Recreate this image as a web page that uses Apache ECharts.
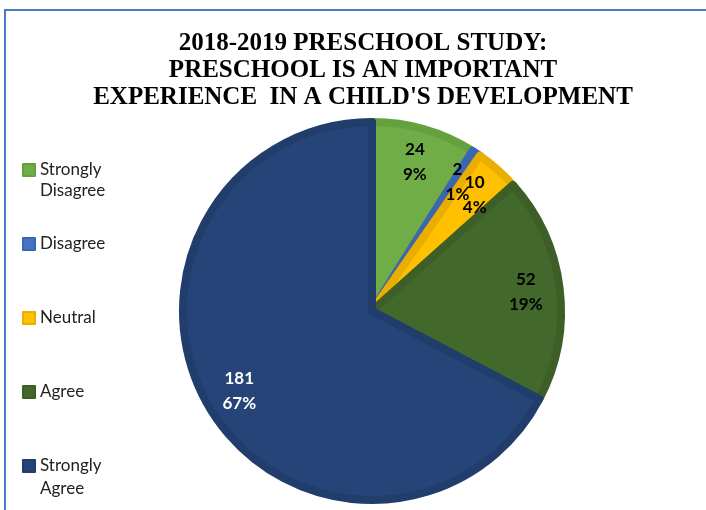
<!DOCTYPE html>
<html>
<head>
<meta charset="utf-8">
<script src="https://cdn.jsdelivr.net/npm/echarts@6/dist/echarts.min.js"></script>
<style>
  html, body { margin: 0; padding: 0; background: #fff; }
  #chart { position: absolute; left: 0; top: 0; width: 706px; height: 510px; }
  #frame { position: absolute; left: 4px; top: 9px; width: 720px; height: 520px;
           border-left: 2px solid #4a7bc6; border-top: 2px solid #4a7bc6; pointer-events: none; }
</style>
</head>
<body>
<div id="chart"></div>
<div id="frame"></div>
<script>
// answers, clockwise from 12 o'clock
var categories = ['Strongly Disagree', 'Disagree', 'Neutral', 'Agree', 'Strongly Agree'];
var counts = [24, 2, 10, 52, 181];

var colors = ['#70ad47', '#4472c4', '#ffc000', '#43682b', '#264478'];
var edgeColors = ['#65a03f', '#3c66b0', '#e9ae00', '#3d5f27', '#213d6c'];
var labelColors = ['#000', '#000', '#000', '#000', '#fff'];

var chart = echarts.init(document.getElementById('chart'));

var sliceData = categories.map(function (name, i) {
  return {
    name: name,
    value: counts[i],
    itemStyle: { color: colors[i], borderColor: edgeColors[i] }
  };
});

var labelData = categories.map(function (name, i) {
  return {
    name: name,
    value: counts[i],
    label: { color: labelColors[i] }
  };
});

var option = {
  animation: false,
  title: {
    text: "2018-2019 PRESCHOOL STUDY:\nPRESCHOOL IS AN IMPORTANT\nEXPERIENCE  IN A CHILD'S DEVELOPMENT",
    left: 358,
    top: 25,
    textAlign: 'center',
    textStyle: {
      fontFamily: 'Liberation Serif',
      fontWeight: 'bold',
      fontSize: 25,
      lineHeight: 27,
      color: '#000'
    }
  },
  legend: {
    orient: 'vertical',
    left: 17,
    top: 156,
    itemWidth: 12,
    itemHeight: 12,
    itemGap: 56,
    itemTextGap: 6,
    icon: 'rect',
    data: categories,
    formatter: function (name) {
      return name.indexOf('Strongly') === 0 ? 'Strongly' : name;
    },
    textStyle: {
      fontFamily: 'Lato',
      fontSize: 17,
      lineHeight: 18,
      color: '#222'
    }
  },
  graphic: [
    { type: 'text', left: 40, top: 182, style: { text: 'Disagree', font: '17px Lato', fill: '#222' } },
    { type: 'text', left: 40, top: 480, style: { text: 'Agree', font: '17px Lato', fill: '#222' } }
  ],
  series: [
    {
      type: 'pie',
      center: [372, 311],
      radius: 189,
      startAngle: 90,
      silent: true,
      label: { show: false },
      labelLine: { show: false },
      itemStyle: { borderWidth: 8, borderJoin: 'round' },
      data: sliceData
    },
    {
      type: 'pie',
      center: [372, 311],
      radius: [111, 193],
      startAngle: 90,
      silent: true,
      percentPrecision: 0,
      avoidLabelOverlap: false,
      itemStyle: { color: 'rgba(0,0,0,0)' },
      labelLayout: { hideOverlap: false },
      label: {
        show: true,
        position: 'inside',
        overflow: 'none',
        formatter: '{c}\n{d}%',
        fontFamily: 'Lato',
        fontWeight: 'bold',
        fontSize: 17,
        lineHeight: 25
      },
      labelLine: { show: false },
      data: labelData
    }
  ]
};

chart.setOption(option);
</script>
</body>
</html>
